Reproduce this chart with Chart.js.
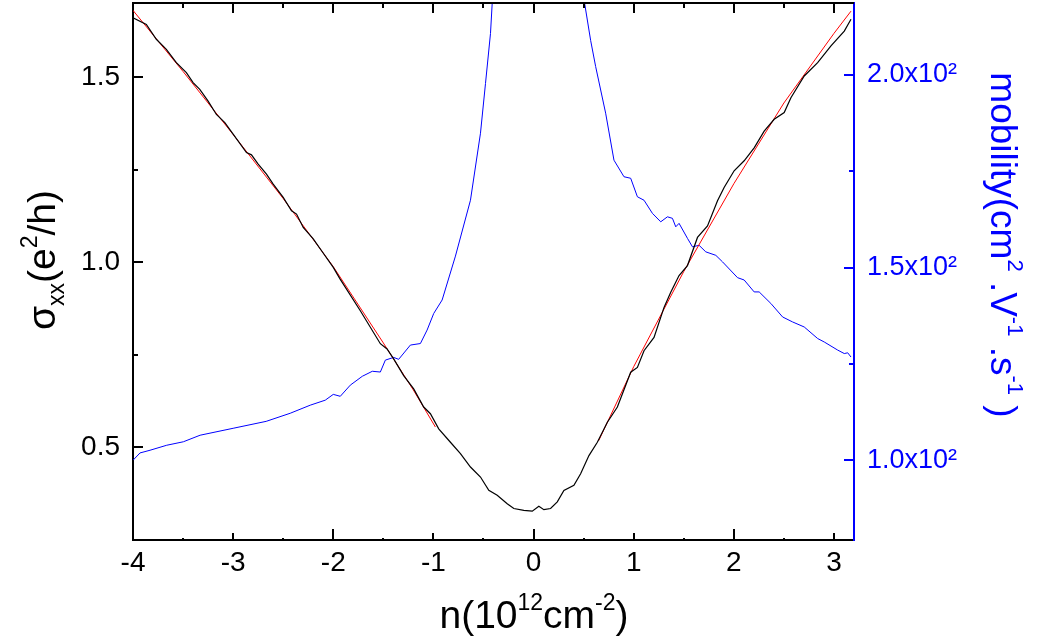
<!DOCTYPE html>
<html>
<head>
<meta charset="utf-8">
<script src="https://cdn.jsdelivr.net/npm/chart.js@4/dist/chart.umd.min.js"></script>
<style>
  html, body { margin: 0; padding: 0; background: #fff; }
  #wrap { width: 1043px; height: 641px; }
</style>
</head>
<body>
<div id="wrap"><canvas id="c" width="1043" height="641"></canvas></div>
<script>
// sigma_xx (e^2/h) vs carrier density n (10^12 cm^-2)
const sigmaN = [-4.00, -3.867, -3.767, -3.667, -3.567, -3.467, -3.40, -3.333, -3.25, -3.167,
  -3.083, -3.00, -2.867, -2.817, -2.75, -2.667, -2.60, -2.50, -2.417, -2.367,
  -2.30, -2.20, -2.117, -2.00, -1.933, -1.73, -1.53, -1.463, -1.397, -1.297,
  -1.197, -1.097, -1.03, -0.947, -0.83, -0.73, -0.63, -0.53, -0.447, -0.363,
  -0.263, -0.197, -0.097, -0.013, 0.053, 0.103, 0.17, 0.237, 0.303, 0.403,
  0.47, 0.553, 0.637, 0.737, 0.837, 0.97, 1.037, 1.103, 1.203, 1.303,
  1.37, 1.453, 1.537, 1.637, 1.737, 1.837, 1.903, 2.003, 2.103, 2.203,
  2.303, 2.403, 2.503, 2.57, 2.703, 2.837, 2.97, 3.103, 3.17]
const sigmaXX = [1.660, 1.642, 1.602, 1.575, 1.539, 1.512, 1.485, 1.467, 1.435, 1.399,
  1.377, 1.346, 1.296, 1.290, 1.265, 1.238, 1.211, 1.175, 1.139, 1.130,
  1.094, 1.063, 1.031, 0.986, 0.955, 0.869, 0.780, 0.766, 0.739, 0.694,
  0.658, 0.609, 0.591, 0.550, 0.514, 0.483, 0.447, 0.420, 0.384, 0.371,
  0.348, 0.335, 0.330, 0.328, 0.341, 0.332, 0.335, 0.353, 0.384, 0.398,
  0.429, 0.478, 0.514, 0.568, 0.609, 0.703, 0.716, 0.761, 0.797, 0.878,
  0.919, 0.964, 0.991, 1.067, 1.098, 1.166, 1.202, 1.247, 1.274, 1.309,
  1.354, 1.386, 1.404, 1.444, 1.503, 1.539, 1.584, 1.624, 1.656]

// red fits, hole side and electron side
const fitLeftN = [-4.0, -3.5, -3.0, -2.5, -2.0, -1.5, -1.2, -0.98]
const fitLeftS = [1.680, 1.515, 1.345, 1.172, 0.988, 0.782, 0.655, 0.555]
const fitRightN = [0.65, 1.0, 1.5, 2.0, 2.5, 3.0, 3.17]
const fitRightS = [0.518, 0.718, 0.975, 1.212, 1.430, 1.618, 1.678]

// mobility (cm^2 V^-1 s^-1), goes off scale around the Dirac point
const mobN = [-4.0, -3.93, -3.83, -3.663, -3.497, -3.33, -3.0, -2.67, -2.43, -2.23,
  -2.08, -2.0, -1.93, -1.83, -1.71, -1.61, -1.53, -1.48, -1.397, -1.347,
  -1.23, -1.13, -1.063, -0.997, -0.913, -0.78, -0.63, -0.53, -0.48, -0.43,
  -0.413, -0.40, 0.05, 0.50, 0.51, 0.57, 0.62, 0.72, 0.803, 0.903,
  0.97, 1.037, 1.103, 1.187, 1.27, 1.337, 1.387, 1.42, 1.453, 1.537,
  1.587, 1.653, 1.72, 1.82, 1.887, 2.037, 2.103, 2.203, 2.253, 2.37,
  2.487, 2.587, 2.703, 2.837, 2.903, 3.037, 3.103, 3.137, 3.17]
const mobV = [100.0, 101.9, 102.6, 103.9, 104.8, 106.5, 108.3, 110.1, 112.2, 114.3,
  115.6, 117.1, 116.6, 119.5, 121.8, 123.1, 122.9, 126.0, 126.7, 126.2,
  129.9, 130.3, 133.8, 138.1, 141.6, 153.0, 167.5, 184.9, 197.8, 210.8,
  218.6, 222, null, 222, 218.6, 209.0, 202.2, 190.1, 177.9, 173.6,
  173.2, 168.4, 167.5, 164.1, 161.9, 163.2, 162.8, 160.6, 161.5, 157.6,
  155.4, 155.8, 154.1, 153.2, 151.5, 147.4, 146.8, 143.7, 143.7, 140.7,
  137.2, 135.9, 134.6, 131.6, 130.7, 128.6, 127.7, 127.9, 126.8]

const FONT = '"Liberation Sans", Arial, sans-serif'
const BLUE = '#0000ff'

const pts = (xs, ys) => xs.map((x, i) => ({ x: x, y: ys[i] }))

// draw text with super/subscripts, centred at (x, y) baseline
function drawRich (ctx, parts, x, y, size, rot, color) {
  ctx.save()
  ctx.translate(x, y)
  ctx.rotate(rot)
  ctx.fillStyle = color
  ctx.textBaseline = 'alphabetic'
  ctx.textAlign = 'left'
  const fontOf = p => ((p.sup || p.sub) ? Math.round(size * 0.6) : size) + 'px ' + FONT
  let total = 0
  parts.forEach(p => { ctx.font = fontOf(p); total += ctx.measureText(p.t).width })
  let cx = -total / 2
  parts.forEach(p => {
    ctx.font = fontOf(p)
    const dy = p.sup ? -size * 0.45 : (p.sub ? size * 0.22 : 0)
    ctx.fillText(p.t, cx, dy)
    cx += ctx.measureText(p.t).width
  })
  ctx.restore()
}

const axisDecor = {
  id: 'axisDecor',
  afterDraw (chart) {
    const { ctx, chartArea: a, scales } = chart
    const xs = scales.x, yl = scales.y, yr = scales.y2
    ctx.save()
    ctx.lineWidth = 2
    ctx.strokeStyle = '#000'
    // top frame line
    ctx.beginPath()
    ctx.moveTo(a.left, a.top)
    ctx.lineTo(a.right, a.top)
    ctx.stroke()

    // x ticks, inward on bottom and top
    for (let v = -4; v <= 3.2; v += 0.5) {
      const px = Math.round(xs.getPixelForValue(v))
      if (px <= a.left + 1 || px >= a.right - 1) continue
      const whole = Math.abs(v - Math.round(v)) < 1e-6
      const lb = whole ? (Math.round(v) % 2 === 0 ? 11 : 7) : 2
      const lt = whole ? 10 : 5
      ctx.beginPath()
      ctx.moveTo(px, a.bottom)
      ctx.lineTo(px, a.bottom - lb)
      ctx.moveTo(px, a.top)
      ctx.lineTo(px, a.top + lt)
      ctx.stroke()
    }
    // left ticks
    for (let v = 0.5; v <= 1.75; v += 0.25) {
      const py = Math.round(yl.getPixelForValue(v))
      if (py <= a.top + 1) continue
      const major = Math.abs(v * 2 - Math.round(v * 2)) < 1e-6
      ctx.beginPath()
      ctx.moveTo(a.left, py)
      ctx.lineTo(a.left + (major ? 10 : 5), py)
      ctx.stroke()
    }
    // right ticks (blue)
    ctx.strokeStyle = BLUE
    for (let v = 100; v <= 200; v += 25) {
      const py = Math.round(yr.getPixelForValue(v))
      const major = v % 50 === 0
      ctx.beginPath()
      ctx.moveTo(a.right, py)
      ctx.lineTo(a.right - (major ? 10 : 5), py)
      ctx.stroke()
    }

    // axis titles
    drawRich(ctx, [{ t: 'n(10' }, { t: '12', sup: true }, { t: 'cm' }, { t: '-2', sup: true }, { t: ')' }],
      534, 628, 39, 0, '#000')
    drawRich(ctx, [{ t: '\u03c3' }, { t: 'xx', sub: true }, { t: '(e' }, { t: '2', sup: true }, { t: '/h)' }],
      55, 260, 39, -Math.PI / 2, '#000')
    drawRich(ctx, [{ t: 'mobility(cm' }, { t: '2', sup: true }, { t: ' .V' }, { t: '-1', sup: true },
      { t: ' .s' }, { t: '-1', sup: true }, { t: ' )' }],
    991, 245, 37, Math.PI / 2, BLUE)
    ctx.restore()
  }
}

// fix the box sizes so the plot frame lands where the figure has it
const fitBox = (w, h) => s => {
  if (w !== null) s.width = w
  if (h !== null) s.height = h
  s.paddingTop = 0
  s.paddingBottom = 0
  s.paddingLeft = 0
  s.paddingRight = 0
}

new Chart(document.getElementById('c'), {
  type: 'line',
  data: {
    datasets: [
      { label: 'sigma', data: pts(sigmaN, sigmaXX), yAxisID: 'y', borderColor: '#000', borderWidth: 1.2 },
      { label: 'fit h', data: pts(fitLeftN, fitLeftS), yAxisID: 'y', borderColor: '#ff0000', borderWidth: 1 },
      { label: 'fit e', data: pts(fitRightN, fitRightS), yAxisID: 'y', borderColor: '#ff0000', borderWidth: 1 },
      { label: 'mobility', data: pts(mobN, mobV), yAxisID: 'y2', borderColor: BLUE, borderWidth: 1, spanGaps: false }
    ]
  },
  options: {
    responsive: false,
    animation: false,
    devicePixelRatio: 1,
    layout: { padding: { top: 3, left: 0, right: 0, bottom: 0 } },
    elements: { point: { radius: 0 }, line: { tension: 0, fill: false } },
    plugins: { legend: { display: false }, tooltip: { enabled: false } },
    scales: {
      x: {
        type: 'linear',
        min: -4,
        max: 3.2,
        grid: { display: false, drawTicks: false },
        border: { display: true, color: '#000', width: 2 },
        ticks: {
          stepSize: 1,
          includeBounds: false,
          padding: 6,
          color: '#000',
          font: { family: FONT, size: 28 },
          callback: v => String(v)
        },
        afterFit: fitBox(null, 101)
      },
      y: {
        position: 'left',
        min: 0.25,
        max: 1.7,
        grid: { display: false, drawTicks: false },
        border: { display: true, color: '#000', width: 2 },
        ticks: {
          stepSize: 0.5,
          includeBounds: false,
          padding: 13,
          color: '#000',
          font: { family: FONT, size: 28 },
          callback: v => v.toFixed(1)
        },
        afterFit: fitBox(133, null)
      },
      y2: {
        position: 'right',
        min: 79.3,
        max: 218.7,
        grid: { display: false, drawTicks: false },
        border: { display: true, color: BLUE, width: 2 },
        ticks: {
          stepSize: 50,
          includeBounds: false,
          padding: 13,
          color: BLUE,
          font: { family: FONT, size: 27 },
          callback: v => (v / 100).toFixed(1) + 'x10\u00b2'
        },
        afterFit: fitBox(189, null)
      }
    }
  },
  plugins: [axisDecor]
})
</script>
</body>
</html>
